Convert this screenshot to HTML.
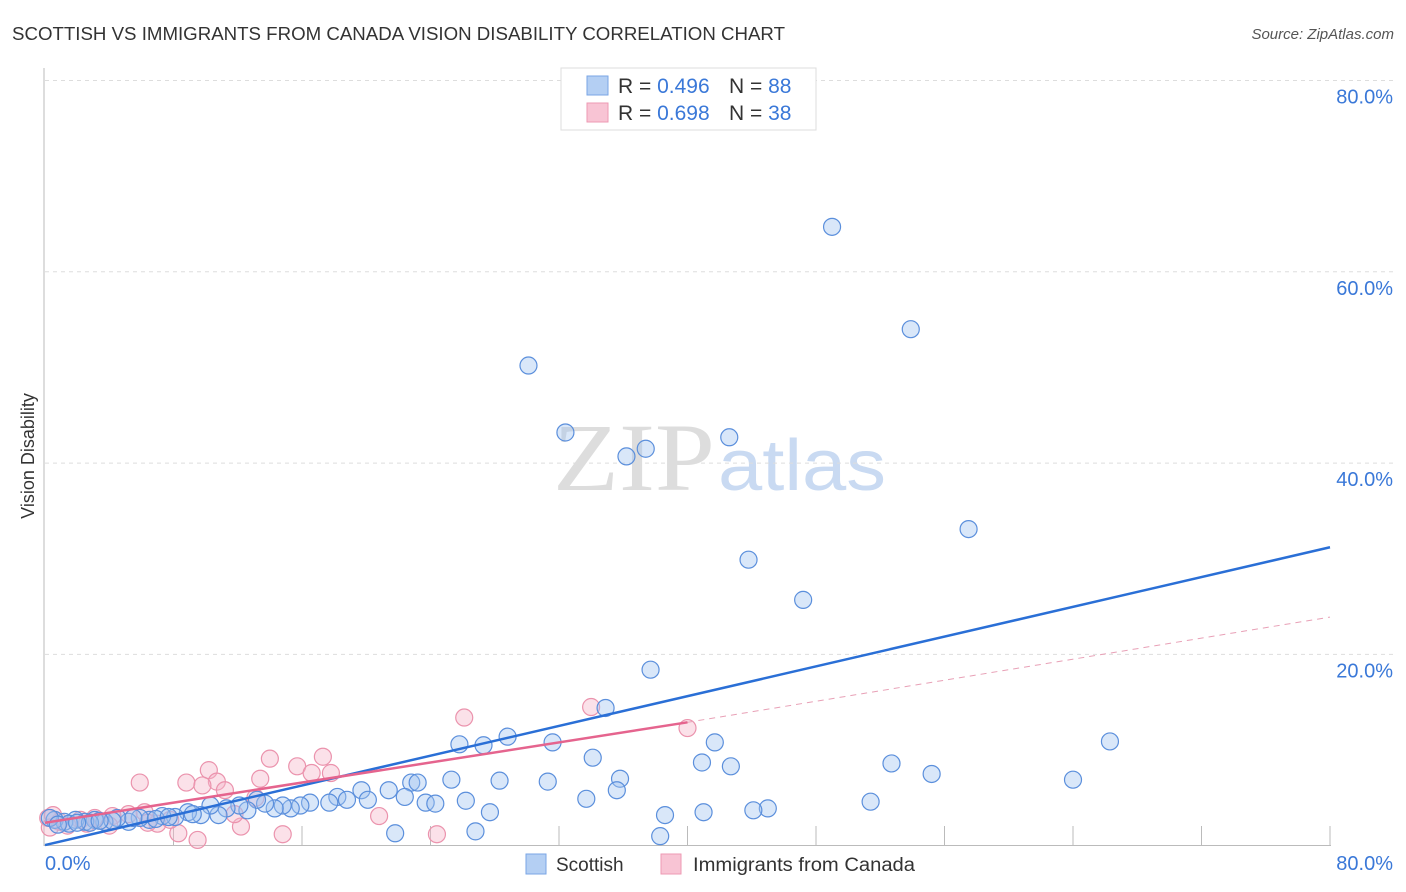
<!DOCTYPE html>
<html><head><meta charset="utf-8"><style>
body{margin:0;background:#fff;font-family:"Liberation Sans",sans-serif;}
#c{position:relative;width:1406px;height:892px;overflow:hidden;}
</style></head><body>
<div id="c">
<svg id="s" width="1406" height="892" xmlns="http://www.w3.org/2000/svg">
<text x="12" y="40" font-size="18" fill="#333" textLength="773" lengthAdjust="spacingAndGlyphs">SCOTTISH VS IMMIGRANTS FROM CANADA VISION DISABILITY CORRELATION CHART</text>
<text x="1394" y="39" font-size="15" fill="#555" font-style="italic" text-anchor="end">Source: ZipAtlas.com</text>
<text x="34" y="456" font-size="18" fill="#333" text-anchor="middle" transform="rotate(-90 34 456)">Vision Disability</text>
<text x="553" y="490" font-size="96" fill="#ddd" font-family="Liberation Serif,serif" textLength="162" lengthAdjust="spacingAndGlyphs">ZIP</text>
<text x="718" y="490" font-size="72" fill="#c9daf2" textLength="168" lengthAdjust="spacingAndGlyphs">atlas</text>
<g id="grid"></g><g id="pts"></g><g id="lines"></g>
<g>
<rect x="561" y="68" width="255" height="62" fill="#fff" stroke="#ddd"/>
<rect x="587" y="76" width="21" height="19" fill="#b4cff3" stroke="#7aa6e6"/>
<rect x="587" y="103" width="21" height="19" fill="#f8c4d4" stroke="#ee9ab3"/>
<text x="618" y="93" font-size="21" fill="#333">R = <tspan fill="#3a78d8">0.496</tspan></text>
<text x="729" y="93" font-size="21" fill="#333">N = <tspan fill="#3a78d8">88</tspan></text>
<text x="618" y="120" font-size="21" fill="#333">R = <tspan fill="#3a78d8">0.698</tspan></text>
<text x="729" y="120" font-size="21" fill="#333">N = <tspan fill="#3a78d8">38</tspan></text>
</g>
<g>
<rect x="526" y="854" width="20" height="20" fill="#b4cff3" stroke="#7aa6e6"/>
<text x="556" y="871" font-size="19" fill="#333">Scottish</text>
<rect x="661" y="854" width="20" height="20" fill="#f8c4d4" stroke="#ee9ab3"/>
<text x="693" y="871" font-size="19" fill="#333" textLength="222" lengthAdjust="spacingAndGlyphs">Immigrants from Canada</text>
</g>
</svg>
</div>
<script>
const yTicks=[20,40,60,80];
const xTickLabels=["0.0%","80.0%"];
const blueX=[49.0,53.9,30.1,32.4,42.6,37.4,36.2,57.5,43.8,47.2,37.7,34.9,28.8,31.6,25.8,27.3,66.3,41.7,34.1,40.9,52.7,42.7,55.2,64.0,35.8,25.3,28.3,31.3,22.8,23.2,35.6,21.4,19.7,22.4,33.7,26.2,23.7,24.3,51.4,45.0,44.1,41.0,27.7,38.6,21.8,26.8,38.3,18.2,17.7,18.8,20.1,16.5,15.9,15.3,14.8,14.3,13.7,13.2,12.6,12.1,11.3,10.8,10.3,9.7,8.9,8.1,7.3,6.5,5.9,5.2,4.5,3.7,3.1,2.5,1.9,1.2,0.6,0.3,1.5,2.8,4.2,6.9,9.2,0.8,3.4,5.5,7.7,2.0];
const blueY=[64.7,54.0,50.2,43.2,42.7,41.5,40.7,33.1,29.9,25.7,18.4,14.4,11.4,10.8,10.6,10.5,10.9,10.8,9.2,8.7,8.6,8.3,7.5,6.9,7.0,6.9,6.8,6.7,6.6,6.6,5.8,5.8,5.8,5.1,4.9,4.7,4.5,4.4,4.6,3.9,3.7,3.5,3.5,3.2,1.3,1.5,1.0,5.1,4.5,4.8,4.8,4.5,4.2,3.9,4.2,3.9,4.4,4.8,3.7,4.2,3.9,3.2,4.2,3.2,3.5,3.0,3.1,2.7,2.9,2.5,2.9,2.5,2.7,2.5,2.7,2.5,2.7,2.9,2.3,2.4,2.6,2.8,3.3,2.2,2.6,2.9,3.0,2.4];
const pinkX=[40.0,34.0,26.1,17.3,14.0,15.7,16.6,17.8,10.2,8.8,10.7,5.9,9.8,11.2,13.4,20.8,24.4,14.8,12.2,8.3,9.5,7.0,6.2,5.2,4.2,3.1,2.2,0.9,0.2,0.3,1.4,13.1,7.8,11.8,4.0,6.4,2.6,0.5];
const pinkY=[12.3,14.5,13.4,9.3,9.1,8.3,7.6,7.6,7.9,6.6,6.7,6.6,6.3,5.8,7.0,3.1,1.2,1.2,2.0,1.3,0.6,2.3,3.5,3.3,3.1,2.9,2.7,2.5,2.9,1.9,2.1,5.0,2.7,3.3,2.1,2.4,2.3,3.2];
const blueTrend=[0.07,31.2];
const pinkTrend=[2.4,12.9,23.9];
const X=v=>45+v*16.0625, Y=v=>845.7-v*9.565;
const NS="http://www.w3.org/2000/svg";
function mk(t,a,p){const e=document.createElementNS(NS,t);for(const k in a)e.setAttribute(k,a[k]);p.appendChild(e);return e;}
const g=document.getElementById('grid');
yTicks.forEach(t=>{
 const l=mk('line',{x1:45,x2:1394,y1:Y(t),y2:Y(t),stroke:'#ddd','stroke-dasharray':'4,4'},g);
 
 
 const tx=mk('text',{x:1393,y:Y(t)+23,'font-size':20,fill:'#3a78d8','text-anchor':'end'},g);
 tx.textContent=t.toFixed(1)+'%';
 
 
});
const ax=mk('line',{x1:44,x2:44,y1:68,y2:846,stroke:'#bbb'},g);


const bx=mk('line',{x1:44,x2:1331,y1:845.5,y2:845.5,stroke:'#bbb'},g);


for(let i=1;i<=10;i++){const t=mk('line',{x1:X(i*8),x2:X(i*8),y1:826,y2:846,stroke:'#bbb'},g);
 
 }
const x0=mk('text',{x:45,y:870,'font-size':20,fill:'#3a78d8'},g);x0.textContent=xTickLabels[0];


const x1=mk('text',{x:1393,y:870,'font-size':20,fill:'#3a78d8','text-anchor':'end'},g);x1.textContent=xTickLabels[1];


const P=document.getElementById('pts');
pinkX.forEach((v,i)=>{const c=mk('circle',{cx:X(v),cy:Y(pinkY[i]),r:8.5,fill:'rgba(246,180,200,0.4)',stroke:'#eb93ad','stroke-width':1.2},P);
 
 });
blueX.forEach((v,i)=>{const c=mk('circle',{cx:X(v),cy:Y(blueY[i]),r:8.5,fill:'rgba(160,196,240,0.4)',stroke:'#5b8fdc','stroke-width':1.2},P);
 
 });
const L=document.getElementById('lines');
const b=mk('line',{x1:X(0),y1:Y(blueTrend[0]),x2:X(80),y2:Y(blueTrend[1]),stroke:'#2a6fd6','stroke-width':2.5},L);


const p=mk('line',{x1:X(0),y1:Y(pinkTrend[0]),x2:X(40),y2:Y(pinkTrend[1]),stroke:'#e5648e','stroke-width':2.5},L);


const pd=mk('line',{x1:X(40),y1:Y(pinkTrend[1]),x2:X(80),y2:Y(pinkTrend[2]),stroke:'#e8a0b6','stroke-width':1,'stroke-dasharray':'6,5'},L);


</script>
</body></html>
